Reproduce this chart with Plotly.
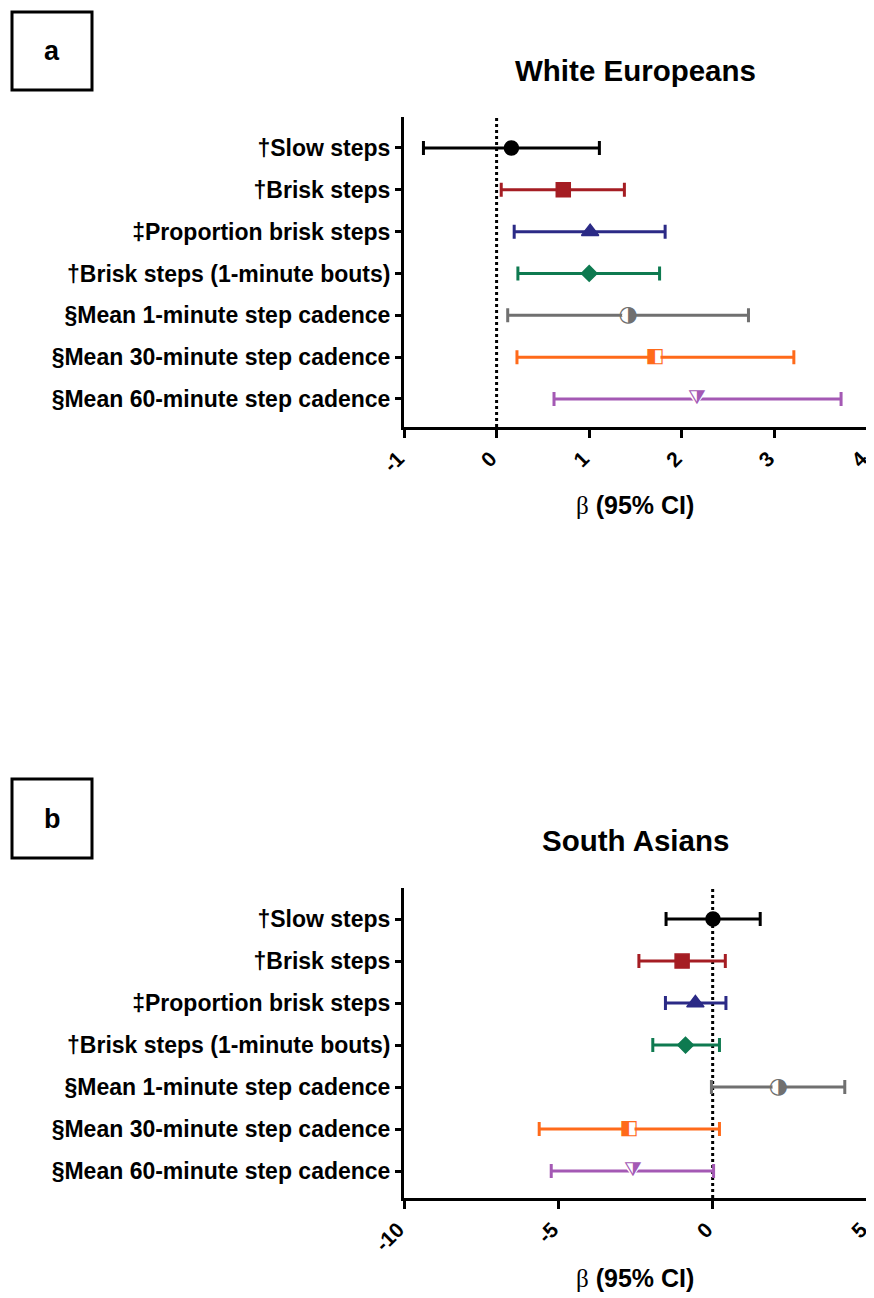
import plotly.graph_objects as go

categories = ["†Slow steps", "†Brisk steps", "‡Proportion brisk steps",
              "†Brisk steps (1-minute bouts)", "§Mean 1-minute step cadence",
              "§Mean 30-minute step cadence", "§Mean 60-minute step cadence"]

# Panel a: White Europeans
we_est = [0.16, 0.72, 1.01, 1.00, 1.42, 1.71, 2.16]
we_low = [-0.79, 0.05, 0.19, 0.23, 0.12, 0.22, 0.62]
we_high = [1.11, 1.38, 1.82, 1.76, 2.72, 3.21, 3.72]

# Panel b: South Asians
sa_est = [0.01, -0.99, -0.56, -0.88, 2.13, -2.71, -2.59]
sa_low = [-1.51, -2.39, -1.53, -1.94, -0.04, -5.62, -5.23]
sa_high = [1.54, 0.41, 0.43, 0.22, 4.28, 0.22, 0.03]

we_ticks = [-1, 0, 1, 2, 3, 4]
we_tick_labels = ["-1", "0", "1", "2", "3", "4"]
sa_ticks = [-10, -5, 0, 5]
sa_tick_labels = ["-10", "-5", "0", "5"]

colors = ["#000000", "#a51d23", "#2b2a86", "#0e7a50", "#707070", "#ff6a1a", "#a459b4"]
symbols = ["circle", "square", "triangle-up", "diamond", "circle", "square", "triangle-down"]
sizes = [14, 14, 15, 12, 14, 13, 14]
# half-filled markers drawn as glyphs
half_glyph = [None, None, None, None, "◑", "◧", "⧩"]
glyph_size = [0, 0, 0, 0, 22, 20, 20]

FONT = "Liberation Sans, Arial, sans-serif"

# page body has an 8px margin: shrink figure so it fits the 874x1298 window
OFF = 8
W, H = 874 - OFF, 1298 - OFF


def px(x):
    return (x - OFF) / W


def py(y):
    return 1 - (y - OFF) / H


fig = go.Figure()


def add_panel(est, low, high, xa, ya):
    for i, cat in enumerate(categories):
        c = colors[i]
        err = dict(type="data", symmetric=False,
                   array=[high[i] - est[i]], arrayminus=[est[i] - low[i]],
                   color=c, thickness=3, width=7)
        if half_glyph[i] is None:
            fig.add_trace(go.Scatter(
                x=[est[i]], y=[cat], mode="markers", xaxis=xa, yaxis=ya,
                marker=dict(symbol=symbols[i], size=sizes[i], color=c,
                            line=dict(color=c, width=1.5)),
                showlegend=False, error_x=err))
        else:
            fig.add_trace(go.Scatter(
                x=[est[i]], y=[cat], mode="markers", xaxis=xa, yaxis=ya,
                marker=dict(symbol=symbols[i], size=sizes[i] - 2, color="white",
                            line=dict(color="white", width=0)),
                showlegend=False, error_x=err))
            fig.add_trace(go.Scatter(
                x=[est[i]], y=[cat], mode="text", xaxis=xa, yaxis=ya,
                text=[half_glyph[i]], textposition="middle center",
                textfont=dict(family="DejaVu Sans", size=glyph_size[i], color=c),
                showlegend=False))


add_panel(we_est, we_low, we_high, "x", "y")
add_panel(sa_est, sa_low, sa_high, "x2", "y2")

xaxis_common = dict(showline=True, linecolor="black", linewidth=3, ticks="outside",
                    ticklen=8, tickwidth=3, tickcolor="black", tickangle=-45,
                    showgrid=False, zeroline=False, automargin=False,
                    ticklabeloverflow="allow", ticklabelshift=-6,
                    tickfont=dict(family=FONT, size=21, color="black", weight="bold"))
yaxis_common = dict(showline=True, linecolor="black", linewidth=3, ticks="outside",
                    ticklen=6, tickwidth=2.5, tickcolor="black", showgrid=False,
                    zeroline=False, type="category", categoryarray=categories,
                    automargin=False,
                    tickfont=dict(family=FONT, size=23, color="black", weight="bold"))

fig.update_layout(
    width=W, height=H, autosize=False,
    margin=dict(l=0, r=0, t=0, b=0),
    plot_bgcolor="white", paper_bgcolor="white",
    xaxis=dict(domain=[px(404), px(867)], range=[-1, 4], tickvals=we_ticks,
               ticktext=we_tick_labels, anchor="y", **xaxis_common),
    yaxis=dict(domain=[py(427), py(117)], range=[6.67, -0.74], anchor="x",
               **yaxis_common),
    xaxis2=dict(domain=[px(404), px(867)], range=[-10, 5], tickvals=sa_ticks,
                ticktext=sa_tick_labels, anchor="y2", **xaxis_common),
    yaxis2=dict(domain=[py(1198), py(888)], range=[6.64, -0.74], anchor="x2",
                **yaxis_common),
)

# dotted zero lines
for xr, yr in [("x", "y domain"), ("x2", "y2 domain")]:
    fig.add_shape(type="line", xref=xr, yref=yr, x0=0, x1=0, y0=0, y1=1,
                  line=dict(color="black", width=3, dash="dot"), layer="below")

# panel boxes
for top, bot, lab in [(12, 90, "a"), (779, 858, "b")]:
    fig.add_shape(type="rect", xref="paper", yref="paper", x0=px(12), x1=px(92),
                  y0=py(bot), y1=py(top), line=dict(color="black", width=3))
    fig.add_annotation(x=px(52), y=py((top + bot) / 2), xref="paper", yref="paper",
                       text=lab, showarrow=False, xanchor="center", yanchor="middle",
                       font=dict(family=FONT, size=27, color="black", weight="bold"))

# titles
for txt, yy in [("White Europeans", 70), ("South Asians", 840)]:
    fig.add_annotation(x=px(635), y=py(yy), xref="paper", yref="paper", text=txt,
                       showarrow=False, xanchor="center", yanchor="middle",
                       font=dict(family=FONT, size=29.5, color="black", weight="bold"))
# axis titles
for yy in [505, 1278]:
    fig.add_annotation(x=px(635), y=py(yy), xref="paper", yref="paper",
                       text="<span style='font-family:Liberation Serif;font-weight:normal'>β</span> (95% CI)",
                       showarrow=False, xanchor="center", yanchor="middle",
                       font=dict(family=FONT, size=25, color="black", weight="bold"))

fig.write_html("out.html")
